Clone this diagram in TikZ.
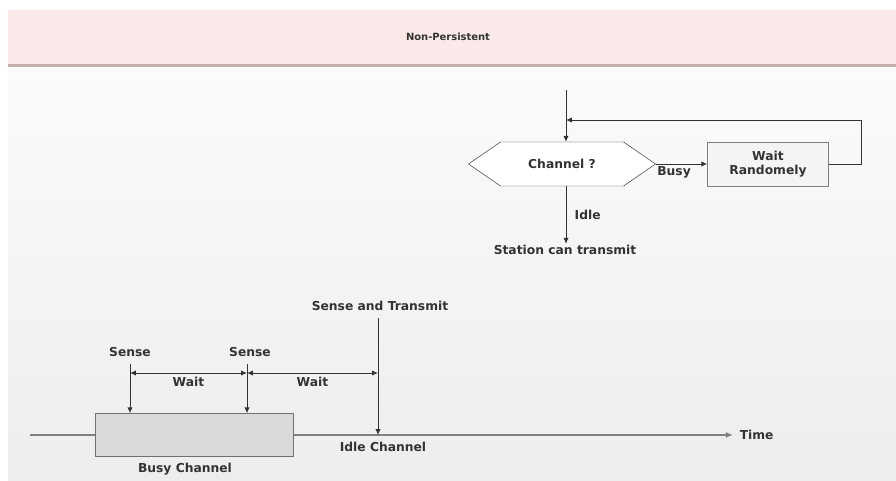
\documentclass[tikz,border=0pt]{standalone}
\usepackage{fontspec}
\setmainfont{DejaVu Sans}
\usetikzlibrary{shapes.symbols,arrows.meta}
\definecolor{bandfill}{HTML}{F9E9E9}
\definecolor{bandline}{HTML}{C9AEAE}
\definecolor{bgtop}{HTML}{FBFBFB}
\definecolor{bgbot}{HTML}{EDEDED}
\definecolor{ink}{HTML}{333333}
\definecolor{busyfill}{HTML}{D9D9D9}
\definecolor{waitfill}{HTML}{F4F4F4}
\tikzset{
  lbl/.style={font=\bfseries\fontsize{10.5}{12.5}\selectfont, text=ink, inner sep=1pt},
  hexa/.style={draw=ink, fill=white, signal, signal to=west and east, signal pointer angle=69,
    minimum width=5.61cm, minimum height=1.32cm, inner sep=0pt},
  waitbox/.style={draw=gray, fill=waitfill, align=center, minimum width=3.63cm, minimum height=1.32cm},
  busybox/.style={draw=ink!70, fill=busyfill, minimum width=5.94cm, minimum height=1.29cm},
  flow/.style={draw=ink, line width=0.8pt, -{Latex[length=5pt,width=4.5pt]}},
}
\begin{document}
\begin{tikzpicture}[x=0.03cm, y=-0.03cm]
    \useasboundingbox (0,0) rectangle (896,481);
    % background and title band
    \shade[top color=bgtop, bottom color=bgbot] (8,66) rectangle (896,481);
    \fill[bandfill] (8,10) rectangle (896,65);
    \fill[bandline] (8,64) rectangle (896,67);
    \node[lbl, font=\bfseries\fontsize{8.5}{10}\selectfont] (title) at (448,37) {Non-Persistent};
    % flow chart
    \coordinate (in) at (566,90);
    \coordinate (join) at (566,120);
    \node[hexa, lbl] (chan) at (562,164) {Channel ?};
    \node[waitbox, lbl] (wait) at (768,164) {Wait\\Randomely};
    \node[lbl] (station) at (565,250) {Station can transmit};
    \draw[ink, line width=0.8pt] (in) -- (join);
    \draw[flow] (join) -- (join |- chan.north);
    \draw[flow] (chan.east) -- (wait.west);
    \node[lbl, anchor=north west] (busy) at ([yshift=-1pt]chan.east) {Busy};
    \draw[flow] (wait.east) -- ++(33,0) |- (join);
    \draw[flow] (join |- chan.south) -- node[lbl, right=6pt] (idle) {Idle} (join |- station.north);
    % time line
    \coordinate (t0) at (30,435);
    \coordinate (t1) at (733,435);
    \draw[gray, line width=1.6pt, -{Latex[length=6pt,width=5pt]}] (t0) -- (t1) node[lbl, right=4pt] (time) {Time};
    \node[busybox] (busych) at (194,435) {};
    \node[lbl] (busylbl) at (185,469) {Busy Channel};
    \node[lbl] (idlelbl) at (383,447) {Idle Channel};
    \node[lbl] (sense1) at (130,352) {Sense};
    \node[lbl] (sense2) at (250,352) {Sense};
    \node[lbl] (sendtx) at (380,306) {Sense and Transmit};
    \coordinate (s1) at (130,364);
    \coordinate (s2) at (247,364);
    \coordinate (s3) at (378,318);
    \draw[flow] (s1) -- (s1 |- busych.north);
    \draw[flow] (s2) -- (s2 |- busych.north);
    \draw[flow] (s3) -- (s3 |- t0);
    \coordinate (w1) at (130,373);
    \coordinate (w2) at (247,373);
    \coordinate (w3) at (378,373);
    \draw[flow, {Latex[length=5pt,width=4.5pt]}-{Latex[length=5pt,width=4.5pt]}] (w1) -- node[lbl, below=2pt] (wait1) {Wait} (w2);
    \draw[flow, {Latex[length=5pt,width=4.5pt]}-{Latex[length=5pt,width=4.5pt]}] (w2) -- node[lbl, below=2pt] (wait2) {Wait} (w3);
\end{tikzpicture}
\end{document}
